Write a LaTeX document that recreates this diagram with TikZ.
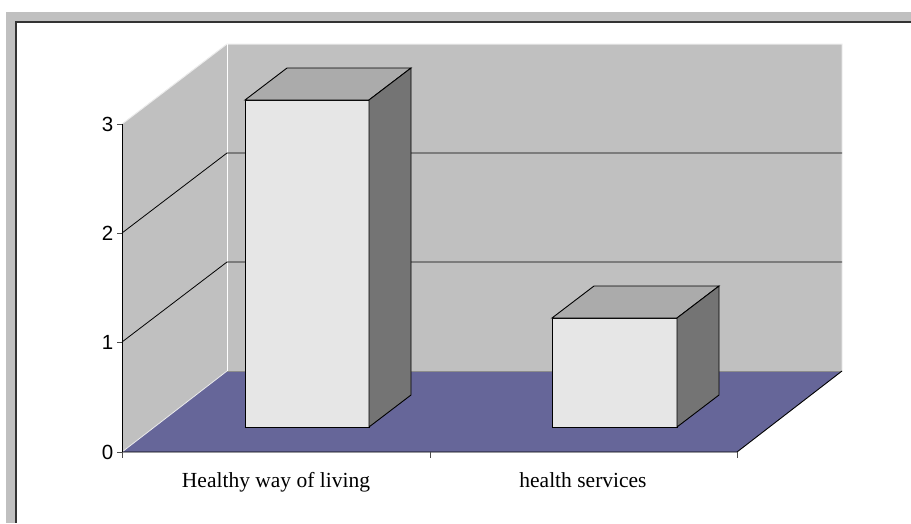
\documentclass[tikz,border=0pt]{standalone}
\usepackage{fontspec}
\setmainfont{Liberation Serif}
\newfontfamily\arialf{Liberation Sans}
\definecolor{wallgray}{HTML}{C0C0C0}
\definecolor{floorblue}{HTML}{666699}
\definecolor{barfront}{HTML}{E6E6E6}
\definecolor{bartop}{HTML}{ABABAB}
\definecolor{barside}{HTML}{747474}
\definecolor{framedark}{HTML}{333333}
\definecolor{edgelight}{HTML}{ECECEC}
\tikzset{
  gridln/.style={black, line width=0.8pt},
  barln/.style={black, line width=0.9pt, line join=miter},
  vlabel/.style={anchor=east, inner sep=0pt, font=\arialf\fontsize{20.5}{20.5}\selectfont},
  clabel/.style={anchor=base, inner sep=0pt, font=\fontsize{21.5}{22}\selectfont},
  tickln/.style={draw=black!70, line width=0.9pt}
}
\newcommand{\mybar}[3]{% x, width, ytop
  \filldraw[barln, fill=barfront] (#1,427) rectangle (#1+#2,#3);
  \filldraw[barln, fill=bartop] (#1,#3) -- (#1+42,#3-32) -- (#1+#2+42,#3-32) -- (#1+#2,#3) -- cycle;
  \filldraw[barln, fill=barside] (#1+#2,#3) -- (#1+#2+42,#3-32) -- (#1+#2+42,395) -- (#1+#2,427) -- cycle;
}
\begin{document}
\begin{tikzpicture}[x=1pt,y=-1pt]
\useasboundingbox (0,0) rectangle (911,523);
% outer frame
\fill[wallgray] (6,12) rectangle (911,21);
\fill[wallgray] (6,12) rectangle (15,523);
\fill[framedark] (15,21) rectangle (911,23);
\fill[framedark] (15,21) rectangle (17,523);
% walls
\fill[wallgray] (122,124) -- (227,44) -- (227,371) -- (122,452) -- cycle;
\fill[wallgray] (227,44) rectangle (842,371);
\draw[edgelight, line width=1pt] (122,124) -- (227,44) -- (842,44) -- (842,371);
\draw[white, line width=1pt] (227,44) -- (227,371);
% gridlines
\draw[gridln] (122,342) -- (227,262) -- (842,262);
\draw[gridln] (122,233) -- (227,153) -- (842,153);
% floor
\fill[floorblue] (122,452) -- (227,371) -- (842,371) -- (737,452) -- cycle;
\draw[black!45, line width=1pt] (227,371) -- (842,371);
\draw[edgelight, line width=0.8pt] (122,452) -- (227,371);
\draw[black, line width=0.9pt] (842,371) -- (737,452) -- (122,452);
% value axis
\draw[black, line width=0.9pt] (122,124) -- (122,452);
\foreach \yy in {124,233,342,452} \draw[tickln] (117,\yy) -- (122,\yy);
\foreach \xx in {122,430,737} \draw[tickln] (\xx,452) -- (\xx,458);
% bars
\mybar{245}{124}{100}
\mybar{552}{125}{318}
% labels
\node[vlabel] (v3) at (113.5,124) {3};
\node[vlabel] (v2) at (113.5,233) {2};
\node[vlabel] (v1) at (113.5,342) {1};
\node[vlabel] (v0) at (113.5,452) {0};
\node[clabel] (c1) at (276,487) {Healthy way of living};
\node[clabel] (c2) at (583,487) {health services};
\end{tikzpicture}
\end{document}
